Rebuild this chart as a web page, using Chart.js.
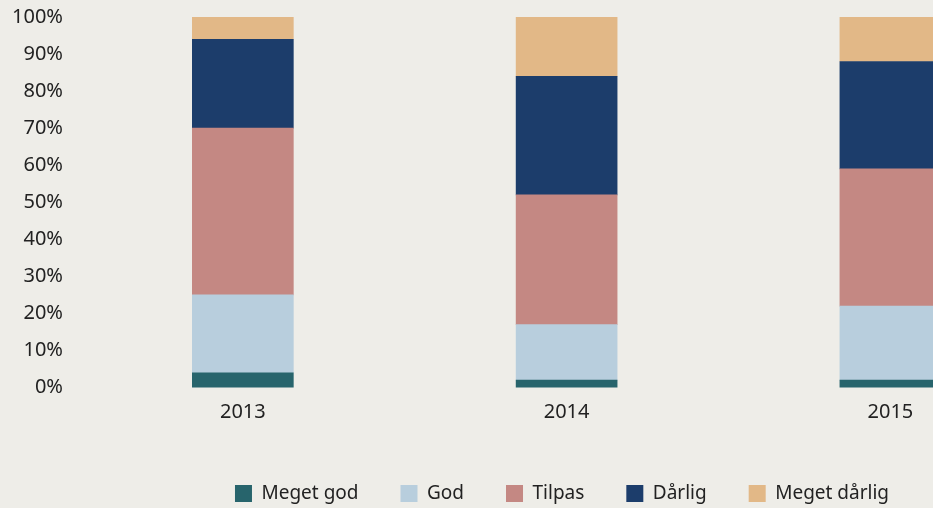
<!DOCTYPE html>
<html>
<head>
<meta charset="utf-8">
<script src="https://cdn.jsdelivr.net/npm/chart.js@4/dist/chart.umd.min.js"></script>
<style>
  html, body { margin: 0; padding: 0; background: #EEEDE8; overflow: hidden; }
  #wrap { width: 1130px; height: 508px; position: relative; }
</style>
</head>
<body>
<div id="wrap"><canvas id="chart"></canvas></div>
<script>
// years on the x axis
var years = [2013, 2014, 2015];

// share of answers per year (%)
var megetGod = [4, 2, 2];
var god = [21, 15, 20];
var tilpas = [45, 35, 37];
var darlig = [24, 32, 29];
var megetDarlig = [6, 16, 12];

var seriesNames = ['Meget god', 'God', 'Tilpas', 'Dårlig', 'Meget dårlig'];
var seriesValues = [megetGod, god, tilpas, darlig, megetDarlig];
var seriesColors = ['#27646C', '#B8CEDD', '#C48883', '#1C3D6B', '#E2B887'];

var font = 'Noto Sans';
var textColor = '#222222';

var datasets = seriesNames.map(function (name, i) {
  return {
    label: name,
    data: years.map(function (y, j) { return { x: y, y: seriesValues[i][j] }; }),
    backgroundColor: seriesColors[i],
    borderWidth: 0,
    barThickness: 101
  };
});

var ctx = document.getElementById('chart').getContext('2d');
var chart = new Chart(ctx, {
  type: 'bar',
  data: { datasets: datasets },
  options: {
    responsive: true,
    maintainAspectRatio: false,
    animation: false,
    layout: { padding: { top: 17, bottom: -5, left: -6, right: 0 } },
    plugins: {
      tooltip: { enabled: false },
      legend: {
        position: 'bottom',
        // tiny empty title just pushes the legend row down a little
        title: { display: true, text: ' ', font: { size: 2 }, padding: { top: 0.5, bottom: 1.5 } },
        labels: {
          boxWidth: 17,
          boxHeight: 17,
          padding: 42,
          color: textColor,
          font: { family: font, size: 19 }
        }
      }
    },
    scales: {
      x: {
        type: 'linear',
        stacked: true,
        offset: false,
        min: 2012.5,
        max: 2015.74,
        grid: { display: false, drawTicks: false },
        border: { display: false },
        ticks: {
          stepSize: 1,
          includeBounds: false,
          padding: 13,
          color: textColor,
          font: { family: font, size: 20 },
          callback: function (v) { return years.indexOf(v) >= 0 ? String(v) : ''; }
        },
        afterFit: function (scale) { scale.paddingLeft = 0; scale.paddingRight = 0; }
      },
      y: {
        stacked: true,
        min: 0,
        max: 100,
        grid: { display: false, drawTicks: false },
        border: { display: false },
        ticks: {
          stepSize: 10,
          padding: 18,
          color: textColor,
          font: { family: font, size: 20 },
          callback: function (v) { return v + '%'; }
        },
        afterFit: function (scale) { scale.paddingTop = 0; scale.paddingBottom = 0; }
      }
    }
  }
});
</script>
</body>
</html>
